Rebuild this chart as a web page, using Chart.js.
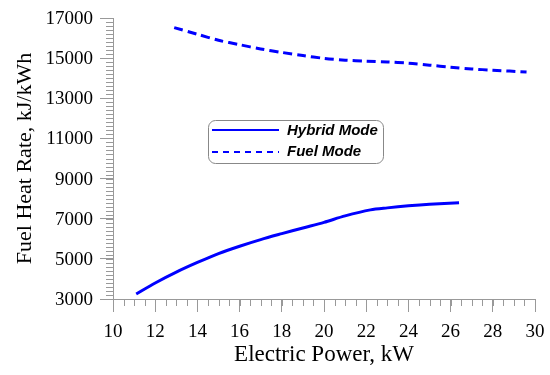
<!DOCTYPE html>
<html lang="en">
<head>
    <meta charset="UTF-8">
    <title>Fuel Heat Rate</title>
    <script src="https://cdn.jsdelivr.net/npm/chart.js"></script>
    <style>
        body { margin: 0; background: #fff; }
        #wrap { width: 550px; height: 375px; }
    </style>
</head>
<body>
    <div id="wrap"><canvas id="heatChart"></canvas></div>

    <script>
        // Valores
        const hybridPower = [11.1, 12, 13, 14, 15, 16, 17, 18, 19, 20, 21, 22.2, 23, 24, 25, 26.4];
        const hybridRate  = [3250, 3800, 4340, 4820, 5265, 5630, 5960, 6255, 6540, 6820, 7140, 7440, 7540, 7640, 7720, 7800];
        const fuelPower = [12.9, 14, 15, 16, 17, 18, 19, 20, 21, 22, 23, 24, 25, 26, 27, 28, 29.6];
        const fuelRate  = [16520, 16190, 15890, 15670, 15460, 15285, 15130, 14990, 14900, 14850, 14810, 14750, 14650, 14550, 14460, 14400, 14310];

        const xTicks = [10, 12, 14, 16, 18, 20, 22, 24, 26, 28, 30];
        const yTicks = [3000, 5000, 7000, 9000, 11000, 13000, 15000, 17000];

        const toPoints = (xs, ys) => xs.map((x, i) => ({ x: x, y: ys[i] }));

        const serif = "'Liberation Serif', 'Times New Roman', serif";
        Chart.defaults.font.family = serif;

        // Ticks menores, rótulos dos ticks e legenda desenhados por cima
        const extras = {
            id: 'extras',
            afterDraw(chart) {
                const ctx = chart.ctx;
                const xs = chart.scales.x, ys = chart.scales.y;
                ctx.save();
                ctx.strokeStyle = '#999';
                ctx.lineWidth = 1;
                ctx.beginPath();
                for (let v = xTicks[0]; v <= xTicks[xTicks.length - 1]; v += 0.5) {
                    const px = Math.round(xs.getPixelForValue(v)) + 0.5;
                    ctx.moveTo(px, ys.bottom);
                    ctx.lineTo(px, ys.bottom + 7);
                }
                for (let v = yTicks[0]; v <= yTicks[yTicks.length - 1]; v += 200) {
                    const py = Math.round(ys.getPixelForValue(v)) + 0.5;
                    ctx.moveTo(xs.left, py);
                    ctx.lineTo(xs.left - 7, py);
                }
                ctx.stroke();

                ctx.fillStyle = '#000';
                ctx.font = '19px ' + serif;
                ctx.textBaseline = 'middle';
                ctx.textAlign = 'right';
                yTicks.forEach(v => ctx.fillText(String(v), xs.left - 20, ys.getPixelForValue(v) + 1));
                ctx.textAlign = 'center';
                xTicks.forEach(v => ctx.fillText(String(v), xs.getPixelForValue(v), ys.bottom + 33));

                // legenda
                const lx = 208, ly = 120, lw = 175, lh = 43;
                ctx.strokeStyle = '#888';
                ctx.beginPath();
                ctx.roundRect(lx + 0.5, ly + 0.5, lw, lh, 7);
                ctx.stroke();
                ctx.strokeStyle = '#0000ff';
                ctx.lineWidth = 2;
                ctx.beginPath();
                ctx.moveTo(212, 130); ctx.lineTo(279, 130);
                ctx.stroke();
                ctx.setLineDash([6, 5]);
                ctx.beginPath();
                ctx.moveTo(212, 152); ctx.lineTo(279, 152);
                ctx.stroke();
                ctx.setLineDash([]);
                ctx.font = "italic bold 15px 'Liberation Sans', Arial, sans-serif";
                ctx.textAlign = 'left';
                ctx.fillText(chart.data.datasets[0].label, 287, 131);
                ctx.fillText(chart.data.datasets[1].label, 287, 152);
                ctx.restore();
            }
        };

        new Chart(document.getElementById('heatChart'), {
            type: 'line',
            data: {
                datasets: [{
                    label: 'Hybrid Mode',
                    data: toPoints(hybridPower, hybridRate),
                    borderColor: '#0000ff',
                    borderWidth: 3,
                    pointRadius: 0,
                    tension: 0.3,
                    fill: false
                }, {
                    label: 'Fuel Mode',
                    data: toPoints(fuelPower, fuelRate),
                    borderColor: '#0000ff',
                    borderWidth: 3,
                    borderDash: [9, 5],
                    pointRadius: 0,
                    tension: 0.3,
                    fill: false
                }]
            },
            options: {
                responsive: true,
                maintainAspectRatio: false,
                animation: false,
                layout: { padding: { top: 18, right: 15, left: 12, bottom: 6 } },
                plugins: {
                    legend: { display: false },
                    tooltip: { enabled: false }
                },
                scales: {
                    x: {
                        type: 'linear',
                        min: xTicks[0],
                        max: xTicks[xTicks.length - 1],
                        afterBuildTicks: s => { s.ticks = xTicks.map(v => ({ value: v })); },
                        afterFit: s => { s.height = 70; },
                        border: { color: '#999', width: 1 },
                        grid: { drawOnChartArea: false, color: '#999', tickLength: 13 },
                        ticks: { display: false },
                        title: {
                            display: true,
                            text: 'Electric Power, kW',
                            color: '#000',
                            font: { family: serif, size: 23 },
                            padding: { top: 0, bottom: 0 }
                        }
                    },
                    y: {
                        min: yTicks[0],
                        max: yTicks[yTicks.length - 1],
                        afterBuildTicks: s => { s.ticks = yTicks.map(v => ({ value: v })); },
                        afterFit: s => { s.width = 101; },
                        border: { color: '#999', width: 1 },
                        grid: { drawOnChartArea: false, color: '#999', tickLength: 13 },
                        ticks: { display: false },
                        title: {
                            display: true,
                            text: 'Fuel Heat Rate, kJ/kWh',
                            color: '#000',
                            font: { family: serif, size: 22 },
                            padding: { top: 0, bottom: 0 }
                        }
                    }
                }
            },
            plugins: [extras]
        });
    </script>
</body>
</html>
